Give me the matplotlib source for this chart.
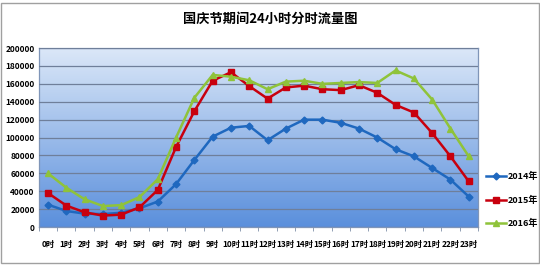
import numpy as np
import matplotlib.pyplot as plt
from matplotlib.patches import Rectangle
from matplotlib.colors import LinearSegmentedColormap

plt.rcParams['font.family'] = ['Noto Sans CJK SC', 'DejaVu Sans']

hours = [str(h) + '时' for h in range(24)]
v2014 = [25000, 18000, 15000, 14500, 16000, 21000, 28500, 48000, 75000, 101000,
         111000, 113000, 97000, 110000, 120000, 120000, 116500, 110000, 100000,
         87000, 79000, 66000, 53000, 34000]
v2015 = [38000, 24000, 16500, 12800, 13900, 22000, 41500, 89500, 129500, 163500,
         173000, 157500, 143500, 156000, 158000, 154000, 153000, 158500, 150000,
         136500, 128000, 105000, 79000, 51000]
v2016 = [60000, 44000, 31000, 23500, 24500, 33500, 53500, 100000, 144500, 170000,
         168000, 164000, 154000, 162500, 163500, 160000, 161000, 162000, 161000,
         175000, 166000, 142500, 110000, 79000]

fig = plt.figure(figsize=(5.4, 2.7), dpi=100)
ax = fig.add_axes([0.072, 0.159, 0.813, 0.663])

# 背景渐变
cmap = LinearSegmentedColormap.from_list('bg', ['#5a8fdc', '#dce8f8'])
grad = np.linspace(0, 1, 256).reshape(-1, 1)
ax.imshow(grad, cmap=cmap, origin='lower', aspect='auto',
          extent=[-0.5, 23.5, 0, 200000], zorder=0)

x = np.arange(len(hours))
ax.plot(x, v2014, color='#1f68bf', marker='D', markersize=3.5, lw=1.8, label='2014年', zorder=3)
ax.plot(x, v2015, color='#c8000e', marker='s', markersize=5, lw=1.8, label='2015年', zorder=3)
ax.plot(x, v2016, color='#8fc33a', marker='^', markersize=5, lw=1.8, label='2016年', zorder=3)

ax.set_xlim(-0.5, 23.5)
ax.set_ylim(0, 200000)
ax.set_yticks(np.arange(0, 200001, 20000))
ax.set_yticklabels([str(v) for v in range(0, 200001, 20000)], fontsize=6, fontweight='bold')
ax.yaxis.grid(True, color='#6f7f9a', lw=0.9, zorder=1)
ax.set_axisbelow(False)
ax.set_xticks(x)
ax.set_xticklabels(hours, fontsize=6, fontweight='bold')
ax.set_xticks(np.arange(-0.5, 24, 1), minor=True)
ax.tick_params(axis='x', which='major', length=0, pad=9)
ax.tick_params(axis='x', which='minor', length=3, color='#7f8fa8')
ax.tick_params(axis='y', length=0, pad=3)
for s in ax.spines.values():
    s.set_color('#7f95b8')
    s.set_linewidth(0.9)

ax.legend(loc='center left', bbox_to_anchor=(1.0, 0.15), frameon=False,
          fontsize=6.5, handlelength=2.2, labelspacing=1.6, handletextpad=0.2,
          prop={'weight': 'bold', 'size': 6.5})

fig.text(0.5, 0.93, '国庆节期间24小时分时流量图', ha='center', va='center',
         fontsize=9.5, fontweight='bold')

fig.patches.append(Rectangle((0.002, 0.025), 0.996, 0.965, transform=fig.transFigure,
                             fill=False, edgecolor='#a0a0a0', lw=1))

fig.savefig('out.png', dpi=100)
